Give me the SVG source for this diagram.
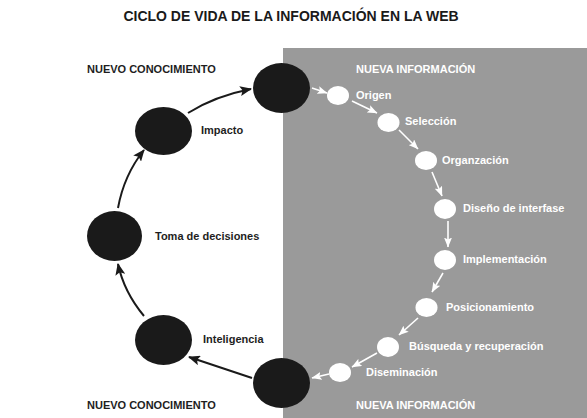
<svg xmlns="http://www.w3.org/2000/svg" width="587" height="418" viewBox="0 0 587 418">
<style>
text{font-family:"Liberation Sans",Arial,sans-serif;font-weight:bold}
.t{font-size:14px;fill:#1a1a1a}
.hd{font-size:11px}
.dk{fill:#1e1e1e;font-size:11px}
.wt{fill:#ffffff;font-size:11px}
.big{fill:#1a1a1a}
.sm{fill:#ffffff}
.ca{fill:none;stroke:#1a1a1a;stroke-width:2}
.wa{fill:none;stroke:#ffffff;stroke-width:1.6}
</style>
<defs>
<marker id="ab" markerUnits="userSpaceOnUse" markerWidth="12" markerHeight="10" viewBox="0 0 12 10" refX="11" refY="5" orient="auto">
<path d="M0,0 L12,5 L0,10 L2.5,5 Z" fill="#1a1a1a"/>
</marker>
<marker id="aw" markerUnits="userSpaceOnUse" markerWidth="10" markerHeight="8" viewBox="0 0 10 8" refX="9.5" refY="4" orient="auto">
<path d="M0,0 L10,4 L0,8 L2,4 Z" fill="#ffffff"/>
</marker>
</defs>
<rect x="0" y="0" width="587" height="418" fill="#ffffff"/>
<rect x="283" y="48" width="304" height="370" fill="#9a9a9a"/>
<text class="t" x="291" y="21" text-anchor="middle">CICLO DE VIDA DE LA INFORMACIÓN EN LA WEB</text>
<text class="hd" x="87" y="73" fill="#1e1e1e">NUEVO CONOCIMIENTO</text>
<text class="hd" x="87" y="409" fill="#1e1e1e">NUEVO CONOCIMIENTO</text>
<text class="hd" x="356" y="73" fill="#ffffff">NUEVA INFORMACIÓN</text>
<text class="hd" x="356" y="409" fill="#ffffff">NUEVA INFORMACIÓN</text>
<g id="connectors">
<path class="ca" d="M252,378 Q222,368 189,357" marker-end="url(#ab)"/>
<path class="ca" d="M144,316 Q124,292 118,264" marker-end="url(#ab)"/>
<path class="ca" d="M118,208 Q124,175 144,150" marker-end="url(#ab)"/>
<path class="ca" d="M188,113 Q215,96 251,89" marker-end="url(#ab)"/>
<path class="wa" d="M312,88 L327,93" marker-end="url(#aw)"/>
<path class="wa" d="M352,101 L377,113" marker-end="url(#aw)"/>
<path class="wa" d="M399,130 L418,149" marker-end="url(#aw)"/>
<path class="wa" d="M432,172 L442,196" marker-end="url(#aw)"/>
<path class="wa" d="M448,221 L448,247" marker-end="url(#aw)"/>
<path class="wa" d="M443,273 L432,292" marker-end="url(#aw)"/>
<path class="wa" d="M418,318 L399,335" marker-end="url(#aw)"/>
<path class="wa" d="M377,353 L352,367" marker-end="url(#aw)"/>
<path class="wa" d="M329,374 L312,378" marker-end="url(#aw)"/>
</g>
<g id="n-top"><ellipse class="big" cx="281.5" cy="88" rx="28.5" ry="25"/></g>
<g id="n-impacto"><ellipse class="big" cx="163.5" cy="131" rx="28.5" ry="24"/><text class="dk" x="201" y="134">Impacto</text></g>
<g id="n-toma"><ellipse class="big" cx="114.5" cy="236" rx="27.5" ry="25"/><text class="dk" x="155" y="240">Toma de decisiones</text></g>
<g id="n-inteligencia"><ellipse class="big" cx="163.5" cy="340" rx="28.5" ry="25"/><text class="dk" x="203" y="343">Inteligencia</text></g>
<g id="n-bottom"><ellipse class="big" cx="281.5" cy="383" rx="28.5" ry="25"/></g>
<g id="n-origen"><ellipse class="sm" cx="338" cy="95.5" rx="11" ry="9.5"/><text class="wt" x="356" y="99">Origen</text></g>
<g id="n-seleccion"><ellipse class="sm" cx="388.5" cy="122.5" rx="11" ry="9.5"/><text class="wt" x="405" y="125">Selección</text></g>
<g id="n-organzacion"><ellipse class="sm" cx="426" cy="160.5" rx="11" ry="9.5"/><text class="wt" x="442" y="164">Organzación</text></g>
<g id="n-diseno"><ellipse class="sm" cx="445" cy="209" rx="11" ry="10"/><text class="wt" x="463" y="212">Diseño de interfase</text></g>
<g id="n-implementacion"><ellipse class="sm" cx="445" cy="260" rx="11" ry="10"/><text class="wt" x="463" y="263">Implementación</text></g>
<g id="n-posicionamiento"><ellipse class="sm" cx="426.5" cy="307.5" rx="11" ry="9.5"/><text class="wt" x="446" y="311">Posicionamiento</text></g>
<g id="n-busqueda"><ellipse class="sm" cx="388" cy="347" rx="11" ry="10"/><text class="wt" x="409" y="350">Búsqueda y recuperación</text></g>
<g id="n-diseminacion"><ellipse class="sm" cx="340" cy="372.5" rx="11" ry="9.5"/><text class="wt" x="366" y="376">Diseminación</text></g>
</svg>
